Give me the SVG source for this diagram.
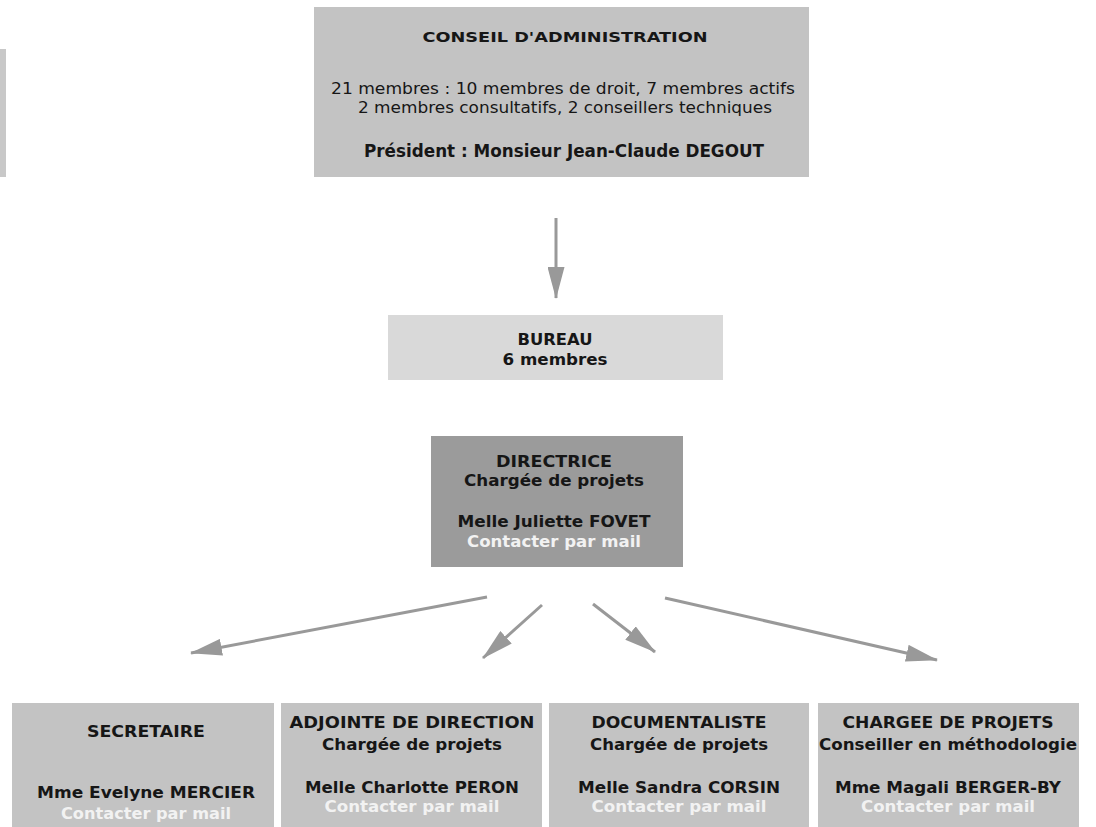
<svg xmlns="http://www.w3.org/2000/svg" width="1096" height="827" viewBox="0 0 1096 827">
<style>
.box{stroke:none}
.t{font-family:"DejaVu Sans","Liberation Sans",sans-serif;fill:#161616;text-anchor:middle}
.b{font-weight:bold}
.w{fill:#f2f2f2}
.conn{stroke:#999999;stroke-width:3;fill:none}
</style>
<defs>
<marker id="ah" markerUnits="userSpaceOnUse" markerWidth="32" markerHeight="17" refX="31" refY="8.5" orient="auto">
<path d="M0,0 L32,8.5 L0,17 z" fill="#999999"/>
</marker>
</defs>
<rect width="1096" height="827" fill="#ffffff"/>
<rect x="0" y="49" width="6" height="128" fill="#c8c8c8"/>

<g id="conseil">
<rect class="box" x="314" y="7" width="495" height="170" fill="#c3c3c3"/>
<text class="t b" x="565" y="42" font-size="14" textLength="285" lengthAdjust="spacingAndGlyphs">CONSEIL D'ADMINISTRATION</text>
<text class="t" x="563" y="94" font-size="15" textLength="464" lengthAdjust="spacingAndGlyphs">21 membres : 10 membres de droit, 7 membres actifs</text>
<text class="t" x="565" y="113" font-size="15" textLength="414" lengthAdjust="spacingAndGlyphs">2 membres consultatifs, 2 conseillers techniques</text>
<text class="t b" x="564" y="157" font-size="18" textLength="400" lengthAdjust="spacingAndGlyphs">Président : Monsieur Jean-Claude DEGOUT</text>
</g>

<g id="bureau">
<rect class="box" x="388" y="315" width="335" height="65" fill="#d9d9d9"/>
<text class="t b" x="555" y="345" font-size="16" textLength="75" lengthAdjust="spacingAndGlyphs">BUREAU</text>
<text class="t b" x="555" y="365" font-size="16" textLength="105" lengthAdjust="spacingAndGlyphs">6 membres</text>
</g>

<g id="directrice">
<rect class="box" x="431" y="436" width="252" height="131" fill="#9b9b9b"/>
<text class="t b" x="554" y="467" font-size="16" textLength="116" lengthAdjust="spacingAndGlyphs">DIRECTRICE</text>
<text class="t b" x="554" y="486" font-size="16" textLength="180" lengthAdjust="spacingAndGlyphs">Chargée de projets</text>
<text class="t b" x="554" y="527" font-size="16" textLength="193" lengthAdjust="spacingAndGlyphs">Melle Juliette FOVET</text>
<text class="t b w" x="554" y="547" font-size="16" textLength="174" lengthAdjust="spacingAndGlyphs">Contacter par mail</text>
</g>

<g id="secretaire">
<rect class="box" x="12" y="703" width="262" height="124" fill="#c3c3c3"/>
<text class="t b" x="146" y="737" font-size="15" textLength="118" lengthAdjust="spacingAndGlyphs">SECRETAIRE</text>
<text class="t b" x="146" y="798" font-size="15" textLength="218" lengthAdjust="spacingAndGlyphs">Mme Evelyne MERCIER</text>
<text class="t b w" x="146" y="819" font-size="15" textLength="170" lengthAdjust="spacingAndGlyphs">Contacter par mail</text>
</g>

<g id="adjointe">
<rect class="box" x="281" y="703" width="261" height="124" fill="#c3c3c3"/>
<text class="t b" x="412" y="728" font-size="15" textLength="245" lengthAdjust="spacingAndGlyphs">ADJOINTE DE DIRECTION</text>
<text class="t b" x="412" y="750" font-size="15" textLength="180" lengthAdjust="spacingAndGlyphs">Chargée de projets</text>
<text class="t b" x="412" y="793" font-size="15" textLength="214" lengthAdjust="spacingAndGlyphs">Melle Charlotte PERON</text>
<text class="t b w" x="412" y="812" font-size="15" textLength="175" lengthAdjust="spacingAndGlyphs">Contacter par mail</text>
</g>

<g id="documentaliste">
<rect class="box" x="549" y="703" width="260" height="124" fill="#c3c3c3"/>
<text class="t b" x="679" y="728" font-size="15" textLength="175" lengthAdjust="spacingAndGlyphs">DOCUMENTALISTE</text>
<text class="t b" x="679" y="750" font-size="15" textLength="178" lengthAdjust="spacingAndGlyphs">Chargée de projets</text>
<text class="t b" x="679" y="793" font-size="15" textLength="202" lengthAdjust="spacingAndGlyphs">Melle Sandra CORSIN</text>
<text class="t b w" x="679" y="812" font-size="15" textLength="175" lengthAdjust="spacingAndGlyphs">Contacter par mail</text>
</g>

<g id="chargee">
<rect class="box" x="818" y="703" width="261" height="124" fill="#c3c3c3"/>
<text class="t b" x="948" y="728" font-size="15" textLength="211" lengthAdjust="spacingAndGlyphs">CHARGEE DE PROJETS</text>
<text class="t b" x="948" y="750" font-size="15" textLength="258" lengthAdjust="spacingAndGlyphs">Conseiller en méthodologie</text>
<text class="t b" x="948" y="793" font-size="15" textLength="226" lengthAdjust="spacingAndGlyphs">Mme Magali BERGER-BY</text>
<text class="t b w" x="948" y="812" font-size="15" textLength="174" lengthAdjust="spacingAndGlyphs">Contacter par mail</text>
</g>

<g id="connectors">
<line class="conn" x1="556" y1="218" x2="556" y2="298" marker-end="url(#ah)"/>
<line class="conn" x1="487" y1="597" x2="191" y2="653" marker-end="url(#ah)"/>
<line class="conn" x1="542" y1="605" x2="483" y2="658" marker-end="url(#ah)"/>
<line class="conn" x1="593" y1="604" x2="655" y2="652" marker-end="url(#ah)"/>
<line class="conn" x1="665" y1="598" x2="937" y2="660" marker-end="url(#ah)"/>
</g>
</svg>
